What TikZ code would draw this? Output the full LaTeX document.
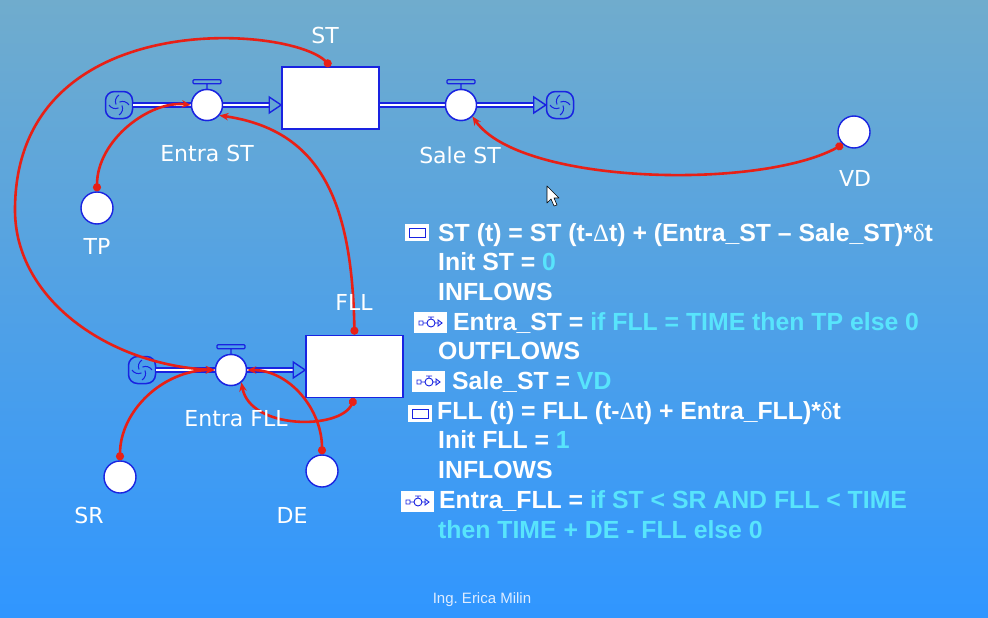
\documentclass[tikz,border=0pt]{standalone}
\usepackage{fontspec}
\setmainfont{Liberation Sans}
\newfontfamily\lblfont{DejaVu Sans}
\newfontfamily\grkfont{Liberation Serif}
\usetikzlibrary{arrows.meta}

\definecolor{bgtop}{RGB}{112,172,205}
\definecolor{bgbot}{RGB}{48,150,255}
\definecolor{pipeblue}{RGB}{25,35,225}
\definecolor{linkred}{RGB}{232,32,22}
\definecolor{eqcyan}{RGB}{88,228,252}
\definecolor{creditwhite}{RGB}{222,236,255}

\begin{document}
\begin{tikzpicture}[x=1pt,y=-1pt,
    stock/.style={draw=pipeblue,line width=1.6pt,fill=white,minimum width=97pt,minimum height=62pt,inner sep=0pt},
    conv/.style={circle,draw=pipeblue,line width=1.4pt,fill=white,minimum size=32pt,inner sep=0pt},
    valve/.style={conv,minimum size=31pt},
    valvebar/.style={draw=pipeblue,line width=1.3pt,rounded corners=1pt},
    cloud/.style={draw=pipeblue,line width=1.5pt,rounded corners=9pt,minimum size=27pt,inner sep=0pt,
      path picture={\foreach \a in {0,90,180,270}{
        \draw[pipeblue,line width=1pt] ([shift={(\a:10pt)}]path picture bounding box.center)
          to[bend right=40] ([shift={(\a+80:3pt)}]path picture bounding box.center);}}},
    pipe/.style={draw=pipeblue,line width=1.7pt,double=white,double distance=1.8pt},
    pipehead/.style={draw=pipeblue,line width=1.4pt,line join=miter},
    link/.style={draw=linkred,line width=2.6pt,{Circle[length=8pt]}-{Stealth[length=9pt,width=7.5pt]}},
    lbl/.style={font=\lblfont\fontsize{22}{26}\selectfont,text=white},
    eq/.style={anchor=base west,inner sep=0pt,text=white,font=\fontsize{24.8}{29}\selectfont\bfseries},
    stockicon/.pic={
      \fill[white] (0,0) rectangle (24,17);
      \draw[pipeblue,line width=1pt] (4,4) rectangle (20,13);},
    flowicon/.pic={
      \fill[white] (0,0) rectangle (33,21);
      \draw[pipeblue,line width=0.9pt] (5,9) rectangle (9,13) (9,11) -- (13,11) (17,11) circle (4)
        (17,7) -- (17,5) (14,5) -- (20,5) (21,11) -- (25,11) (24,8) -- (28,11) -- (24,14) -- cycle;}
  ]
  \useasboundingbox (0,0) rectangle (988,618);
  \shade[top color=bgtop,bottom color=bgbot] (0,0) rectangle (988,618);

  % stocks, clouds, valves
  \node[stock] (ST) at (330.5,98) {};
  \node[stock] (FLL) at (354.5,366.5) {};
  \node[cloud] (C1) at (119,105) {};
  \node[cloud] (C2) at (560,105) {};
  \node[cloud] (C3) at (142,370) {};
  \node[valve] (EST) at (207,105) {};
  \node[valve] (SST) at (461,105) {};
  \node[valve] (EFLL) at (231,370) {};
  \coordinate (aST) at (ST.west |- EST);
  \coordinate (bST) at (ST.east |- SST);
  \coordinate (aFLL) at (FLL.west |- EFLL);

  % pipes
  \draw[pipe] (C1.east) -- ([xshift=-12pt]aST);
  \draw[pipehead] (aST) -- ++(-12,-8) -- ++(0,16) -- cycle;
  \draw[pipe] (bST) -- ([xshift=-12pt]C2.west);
  \draw[pipehead] (C2.west) -- ++(-12,-8) -- ++(0,16) -- cycle;
  \draw[pipe] (C3.east) -- ([xshift=-12pt]aFLL);
  \draw[pipehead] (aFLL) -- ++(-12,-8) -- ++(0,16) -- cycle;

  \node[stock] at (ST) {};
  \node[stock] at (FLL) {};
  \foreach \v in {EST,SST,EFLL}{
    \node[valve] at (\v) {};
    \draw[valvebar] (\v.north) -- ++(0,-5) ++(-14,0) rectangle ++(28,-4);
  }

  % converters
  \node[conv] (TP) at (97,208) {};
  \node[conv] (VD) at (854,132) {};
  \node[conv] (SR) at (120,477) {};
  \node[conv] (DE) at (322,471) {};

  % links
  \draw[link] (ST.north) .. controls (290,25) and (15,5) .. (15,210)
    .. controls (15,300) and (110,365) .. (EFLL.west);
  \draw[link] (FLL.north) .. controls (352,200) and (320,130) .. (EST.-40);
  \draw[link] (TP.north) .. controls (97,140) and (150,100) .. (EST.west);
  \draw[link] (VD.-132) .. controls (760,190) and (520,185) .. (SST.-45);
  \draw[link] (SR.north) .. controls (120,411) and (163,370) .. (EFLL.west);
  \draw[link] (DE.north) .. controls (322,410) and (290,370) .. (EFLL.east);
  \draw[link] (FLL.south) .. controls (340,430) and (250,430) .. (EFLL.-50);

  % labels
  \node[lbl] (lST) at (325,35) {ST};
  \node[lbl] (lEST) at (207,153) {Entra ST};
  \node[lbl] (lSST) at (460,155) {Sale ST};
  \node[lbl] (lTP) at (97,246) {TP};
  \node[lbl] (lVD) at (855,178) {VD};
  \node[lbl] (lFLL) at (354,302) {FLL};
  \node[lbl] (lEFLL) at (236,419) {Entra FLL};
  \node[lbl] (lSR) at (89,515) {SR};
  \node[lbl] (lDE) at (292,515) {DE};

  % mouse pointer
  \draw[fill=white,line width=0.6pt,line join=round] (547,186) -- (547,203) -- (551,199) -- (554,206)
    -- (557,205) -- (554,198) -- (559,198) -- cycle;

  % equations
  \pic at (405,224) {stockicon};
  \node[eq] (eq1) at (438,241) {ST (t) = ST (t-{\grkfont\mdseries Δ}t) + (Entra\_ST – Sale\_ST)*{\grkfont\mdseries δ}t};
  \node[eq] (eq2) at (438,270.7) {Init ST = \textcolor{eqcyan}{0}};
  \node[eq] (eq3) at (438,300.4) {INFLOWS};
  \pic at (414,312) {flowicon};
  \node[eq] (eq4) at (453,330.1) {Entra\_ST = \textcolor{eqcyan}{if FLL = TIME then TP else 0}};
  \node[eq] (eq5) at (438,359.8) {OUTFLOWS};
  \pic at (412,371) {flowicon};
  \node[eq] (eq6) at (452,389.5) {Sale\_ST = \textcolor{eqcyan}{VD}};
  \pic at (408,405) {stockicon};
  \node[eq] (eq7) at (437,419.2) {FLL (t) = FLL (t-{\grkfont\mdseries Δ}t) + Entra\_FLL)*{\grkfont\mdseries δ}t};
  \node[eq] (eq8) at (438,448.9) {Init FLL = \textcolor{eqcyan}{1}};
  \node[eq] (eq9) at (438,478.6) {INFLOWS};
  \pic at (401,491) {flowicon};
  \node[eq] (eq10) at (439,508.3) {Entra\_FLL = \textcolor{eqcyan}{if ST < SR AND FLL < TIME}};
  \node[eq,text=eqcyan] (eq11) at (438,538) {then TIME + DE - FLL else 0};

  \node[font=\fontsize{15}{18}\selectfont,text=creditwhite] (credit) at (482,600) {Ing.\ Erica Milin};
\end{tikzpicture}
\end{document}
